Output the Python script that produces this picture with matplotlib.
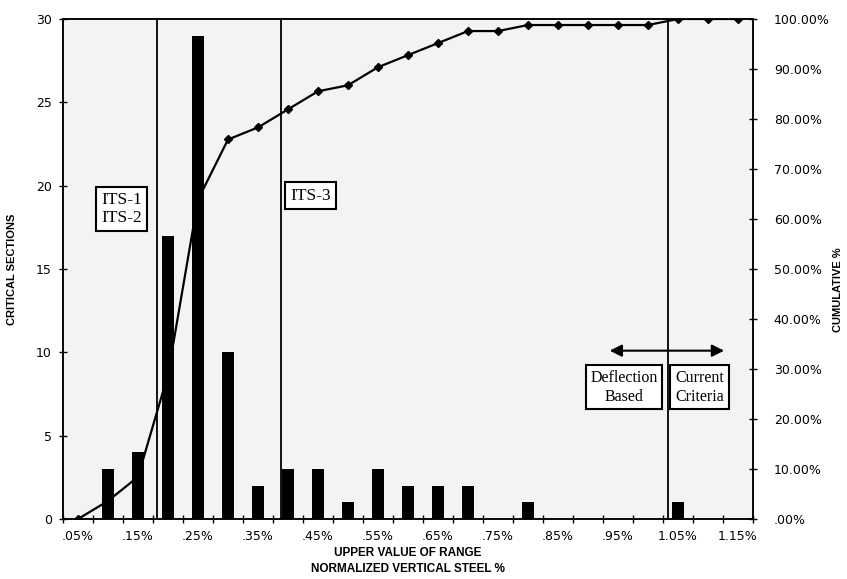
import matplotlib.pyplot as plt
import numpy as np

# Werte
steel = [.05, .10, .15, .20, .25, .30, .35, .40, .45, .50, .55, .60,
         .65, .70, .75, .80, .85, .90, .95, 1.00, 1.05, 1.10, 1.15]
counts = [0, 3, 4, 17, 29, 10, 2, 3, 3, 1, 3, 2,
          2, 2, 0, 1, 0, 0, 0, 0, 1, 0, 0]
right_ticks = [0, .1, .2, .3, .4, .5, .6, .7, .8, .9, 1.0]
left_ticks = [0, 5, 10, 15, 20, 25, 30]

def pct_label(v):
    s = "%.2f%%" % (v * 100)
    return s[1:] if s.startswith("0") else s

x = np.arange(len(steel))
cum = np.cumsum(counts) / np.sum(counts)

fig = plt.figure(figsize=(8.47, 5.79), dpi=100)
ax2 = fig.add_axes([63/847, 60/579, 690/847, 500/579])
ax = ax2.twinx()
ax.yaxis.tick_left()
ax.yaxis.set_label_position("left")
ax2.yaxis.tick_right()
ax.set_zorder(ax2.get_zorder() + 1)
ax.patch.set_visible(False)
ax2.set_facecolor("#f3f3f3")

# kumulative Linie (hinter den Balken)
ax2.plot(x, cum, color="black", lw=1.6, marker="D", ms=4.5, zorder=2)
ax2.set_ylim(0, 1)
ax2.set_yticks(right_ticks)
ax2.set_yticklabels([pct_label(v) for v in right_ticks])

ax.bar(x, counts, width=0.43, color="black", zorder=3)
ax.set_ylim(0, 30)
ax.set_yticks(left_ticks)

ax.set_xlim(-0.5, len(steel) - 0.5)
ax2.set_xticks(np.arange(-0.5, len(steel), 1.0))
ax2.set_xticklabels([])
ax2.set_xticks(x[::2], minor=True)
ax2.set_xticklabels([("%.2f%%" % v).lstrip("0") for v in steel[::2]],
                    minor=True)

for a in (ax, ax2):
    a.tick_params(axis="both", which="major", direction="inout", length=6,
                  width=1, labelsize=9)
    for s in a.spines.values():
        s.set_linewidth(1.1)
ax2.tick_params(axis="y", pad=12)
ax.tick_params(axis="y", pad=5)
ax2.tick_params(axis="x", which="minor", length=0, labelsize=9, pad=8)

# senkrechte Linien
for xv in [2.63, 6.77, 19.67]:
    ax.axvline(xv, color="black", lw=1.3, zorder=4)

box = dict(boxstyle="square,pad=0.3", fc="white", ec="black", lw=1.5)
serif = dict(family="Liberation Serif", fontsize=11.5, ha="center",
             va="center", bbox=box, zorder=6, linespacing=1.2)
ax.text(1.45, 18.6, "ITS-1\nITS-2", **dict(serif, fontsize=12.5))
ax.text(7.75, 19.4, "ITS-3", **dict(serif, fontsize=12.5))
ax.text(18.2, 7.9, "Deflection\nBased", **serif)
ax.text(20.72, 7.9, "Current\nCriteria", **serif)
ax.annotate("", xy=(17.63, 10.1), xytext=(21.63, 10.1),
            arrowprops=dict(arrowstyle="<|-|>", color="black", lw=1.5,
                            mutation_scale=18), zorder=6)

ax.set_ylabel("CRITICAL SECTIONS", fontsize=8, fontweight="bold",
              family="Liberation Sans", labelpad=14)
fig.text(838/847, 0.5, "CUMULATIVE %", rotation=90, ha="center",
         va="center", fontsize=8, fontweight="bold",
         family="Liberation Sans")
ax2.set_xlabel("UPPER VALUE OF RANGE\nNORMALIZED VERTICAL STEEL %",
               fontsize=8.5, fontweight="bold", family="Liberation Sans",
               labelpad=3, linespacing=1.45)

fig.savefig("out.png", dpi=100)
